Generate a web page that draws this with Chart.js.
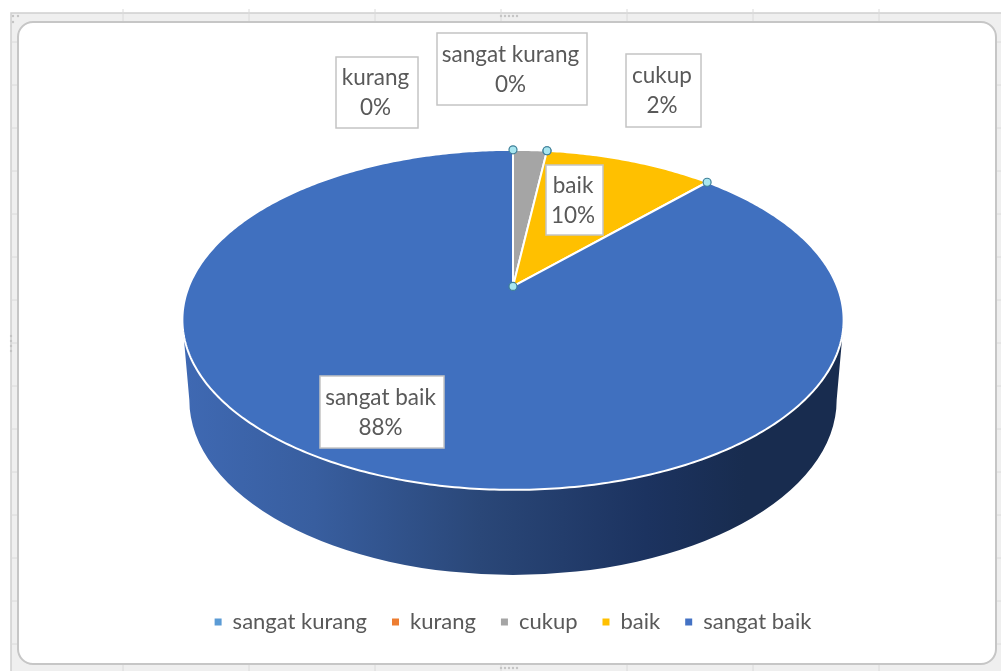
<!DOCTYPE html>
<html><head><meta charset="utf-8">
<style>html,body{margin:0;padding:0;background:#fff}#w{position:relative;width:1001px;height:671px}canvas{display:block;filter:blur(0.45px)}</style>
<script src="https://cdn.jsdelivr.net/npm/chart.js@4"></script>
</head><body><div id="w"><canvas id="c" width="1001" height="671"></canvas></div>
<script>
const categories = ["sangat kurang", "kurang", "cukup", "baik", "sangat baik"];
const values = [0, 0, 2, 10, 88];
const sliceColors = ["#5B9BD5", "#ED7D31", "#A5A5A5", "#FFC000", "#4070BF"];
const legendColors = ["#5B9BD5", "#ED7D31", "#A5A5A5", "#FFC000", "#4472C4"];
const handleSlices = [2, 3];

// label box geometry: [left, top, right, bottom]
const labelBoxes = [[437, 33, 587, 105], [336, 57, 418, 128], [626, 54, 701, 127], [546, 165, 603, 235], [320, 376, 444, 448]];
const FONT = 'Lato, "Open Sans", sans-serif';

// perspective tilt of the pie, relative to the library's outer radius
const RREF = 291.5;
const tilt = { a: 322.5 / RREF, b: 162.6 / RREF, k: 0.1965, apexShift: -6.5 / RREF };
// side wall, relative to the outer radius
const wall = { topDy: 34 / RREF, topRx: 329 / RREF, botDy: 113 / RREF, botRx: 322 / RREF, botRy: 174 / RREF };

function project(el, angle, r) {
  const R = el.outerRadius, u = r * Math.cos(angle), v = -r * Math.sin(angle);
  const d = 1 + tilt.k * v;
  return { x: el.x + R * tilt.a * u / d, y: el.y + R * tilt.apexShift - R * tilt.b * v / d };
}

const frame = {
  id: "frame",
  beforeDraw(chart) {
    const c = chart.ctx;
    c.save();
    c.fillStyle = "#fff"; c.fillRect(0, 0, 1001, 671);
    c.fillStyle = "#efefef"; c.fillRect(11, 13, 990, 658);
    c.strokeStyle = "#cfcfcf"; c.lineWidth = 1.5; c.strokeRect(11, 13, 1000, 700);
    c.strokeStyle = "#dadada"; c.lineWidth = 1;
    for (let x = 123; x < 1001; x += 126) {
      c.beginPath(); c.moveTo(x, 9); c.lineTo(x, 22); c.moveTo(x, 664); c.lineTo(x, 671); c.stroke();
    }
    for (let y = 42; y < 660; y += 43) {
      c.beginPath(); c.moveTo(11, y); c.lineTo(18, y); c.moveTo(996, y); c.lineTo(1001, y); c.stroke();
    }
    c.fillStyle = "#fff"; c.strokeStyle = "#c6c6c6"; c.lineWidth = 2;
    c.beginPath(); c.roundRect(18, 22, 978, 642, 15); c.fill(); c.stroke();
    c.fillStyle = "#c4c4c4";
    [[13, 16], [18, 16], [13, 22], [501, 16], [505, 16], [509, 16], [513, 16], [517, 16], [501, 668], [505, 668], [509, 668], [513, 668], [517, 668], [11, 336], [11, 341], [11, 346], [11, 351]].forEach(p => {
      c.beginPath(); c.arc(p[0], p[1], 1.2, 0, Math.PI * 2); c.fill();
    });
    c.restore();
  },
  beforeDatasetDraw(chart) {
    const c = chart.ctx, arcs = chart.getDatasetMeta(0).data, el = arcs[0];
    const R = el.outerRadius, apexY = el.y + R * tilt.apexShift;
    // side wall
    const topY = apexY + R * wall.topDy, botY = apexY + R * wall.botDy;
    const g = c.createLinearGradient(el.x - R * wall.topRx, 0, el.x + R * wall.topRx, 0);
    g.addColorStop(0, "#3F69B3"); g.addColorStop(0.2, "#385E9F"); g.addColorStop(0.45, "#2A4778");
    g.addColorStop(0.7, "#1C3360"); g.addColorStop(0.85, "#182C4F"); g.addColorStop(1, "#182C4F");
    c.save();
    c.fillStyle = g;
    c.beginPath();
    c.moveTo(el.x - R * wall.topRx, topY);
    c.lineTo(el.x - R * wall.botRx, botY);
    c.ellipse(el.x, botY, R * wall.botRx, R * wall.botRy, 0, Math.PI, 0, true);
    c.lineTo(el.x + R * wall.topRx, topY);
    c.closePath(); c.fill();
    // top slices, projected from the library's arc elements
    arcs.forEach((a, i) => {
      if (a.endAngle - a.startAngle <= 0) return;
      const n = Math.max(8, Math.ceil((a.endAngle - a.startAngle) * 80));
      c.beginPath();
      const o = project(a, 0, 0); c.moveTo(o.x, o.y);
      for (let s = 0; s <= n; s++) {
        const p = project(a, a.startAngle + (a.endAngle - a.startAngle) * s / n, 1);
        c.lineTo(p.x, p.y);
      }
      c.closePath();
      c.fillStyle = sliceColors[i]; c.fill();
      c.strokeStyle = "#fff"; c.lineWidth = 2; c.lineJoin = "round"; c.stroke();
    });
    c.restore();
    return false;
  },
  afterDatasetsDraw(chart) {
    const c = chart.ctx, arcs = chart.getDatasetMeta(0).data;
    c.save();
    const total = values.reduce((s, v) => s + v, 0);
    // selection handles
    const pts = [project(arcs[0], 0, 0)];
    handleSlices.forEach(i => {
      pts.push(project(arcs[i], arcs[i].startAngle, 1), project(arcs[i], arcs[i].endAngle, 1));
    });
    pts.forEach(p => {
      c.beginPath(); c.arc(p.x, p.y, 4, 0, Math.PI * 2);
      c.fillStyle = "#A8E6F0"; c.fill();
      c.strokeStyle = "#3E7F98"; c.lineWidth = 1.2; c.stroke();
    });
    // data labels
    c.textAlign = "center"; c.textBaseline = "middle"; c.font = "22.5px " + FONT;
    categories.forEach((name, i) => {
      const [l, t, r, b] = labelBoxes[i];
      c.fillStyle = "#fff"; c.fillRect(l, t, r - l, b - t);
      c.strokeStyle = "#c4c4c4"; c.lineWidth = 1.5; c.strokeRect(l, t, r - l, b - t);
      c.fillStyle = "#595959";
      const mx = (l + r) / 2 - 1.5, my = (t + b) / 2;
      c.fillText(name, mx, my - 14.5);
      c.fillText(Math.round(values[i] / total * 100) + "%", mx, my + 15.5);
    });
    c.restore();
  }
};

new Chart(document.getElementById("c"), {
  type: "pie",
  data: { labels: categories, datasets: [{ data: values, backgroundColor: legendColors, borderColor: "#fff", borderWidth: 0 }] },
  options: {
    responsive: false, animation: false,
    layout: { padding: { left: 25, bottom: 28, top: 0, right: 0 } },
    plugins: {
      tooltip: { enabled: false },
      legend: { position: "bottom", labels: { boxWidth: 7, boxHeight: 7, padding: 25, color: "#595959", font: { family: FONT, size: 22 } } }
    }
  },
  plugins: [frame]
});
</script></body></html>
